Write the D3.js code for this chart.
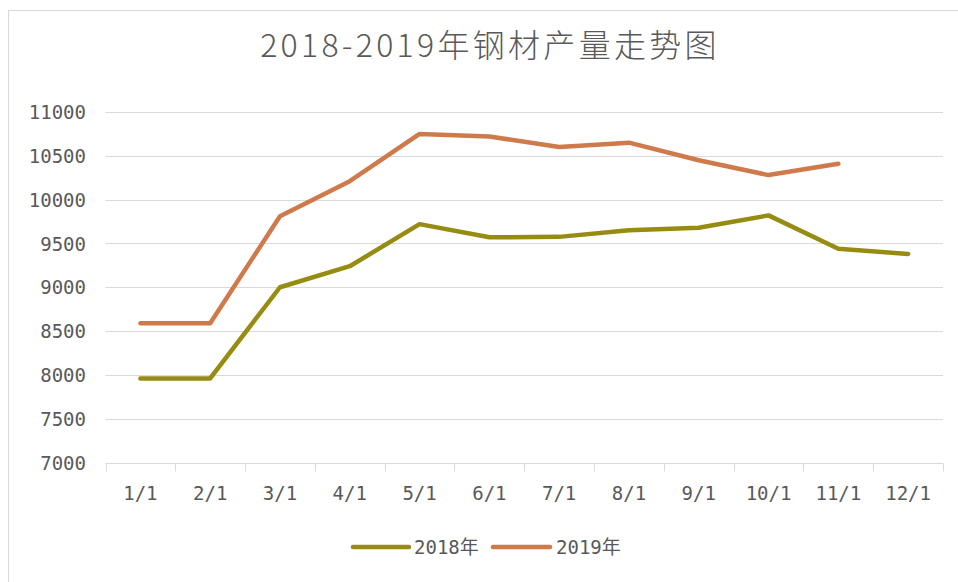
<!DOCTYPE html>
<html>
<head>
<meta charset="utf-8">
<script src="https://cdn.jsdelivr.net/npm/d3@7/dist/d3.min.js"></script>
<style>
  html, body { margin: 0; padding: 0; background: #fff; }
  svg { display: block; }
</style>
</head>
<body>
<svg id="chart" width="958" height="582"></svg>
<script>
const title = "2018-2019年钢材产量走势图";
const categories = ["1/1","2/1","3/1","4/1","5/1","6/1","7/1","8/1","9/1","10/1","11/1","12/1"];
const seriesNames = ["2018年", "2019年"];
const values2018 = [7960, 7960, 9000, 9240, 9720, 9570, 9575, 9650, 9680, 9820, 9440, 9380];
const values2019 = [8590, 8590, 9810, 10210, 10750, 10720, 10600, 10650, 10450, 10280, 10410];
const yTicks = [7000, 7500, 8000, 8500, 9000, 9500, 10000, 10500, 11000];
const colors = ["#978C12", "#CF7A4B"];

const svg = d3.select("#chart");
const numFont = "'DejaVu Sans Mono', 'Noto Sans CJK SC', monospace";
const textColor = "#595959";
const gridColor = "#D9D9D9";

// chart frame
svg.append("rect")
  .attr("x", 8.5).attr("y", 10.5)
  .attr("width", 1000).attr("height", 1000)
  .attr("fill", "#fff").attr("stroke", "#D9D9D9").attr("stroke-width", 1);

const plot = { left: 105.5, right: 943, top: 112, bottom: 462.5 };

const x = d3.scaleBand().domain(categories).range([plot.left, plot.right]).paddingInner(0).paddingOuter(0);
const y = d3.scaleLinear().domain([7000, 11000]).range([plot.bottom, plot.top]);

// gridlines
svg.append("g")
  .selectAll("line")
  .data(yTicks.filter(d => d !== 7000))
  .join("line")
  .attr("x1", plot.left).attr("x2", plot.right)
  .attr("y1", d => Math.round(y(d)) + 0.5).attr("y2", d => Math.round(y(d)) + 0.5)
  .attr("stroke", gridColor).attr("stroke-width", 1);

// y axis labels
const yAxis = d3.axisLeft(y).tickValues(yTicks).tickSize(0).tickPadding(0).tickFormat(d => d);
const yg = svg.append("g").attr("transform", `translate(86,0)`).call(yAxis);
yg.select(".domain").remove();
yg.selectAll("text")
  .attr("font-family", numFont).attr("font-size", 19)
  .attr("fill", textColor).attr("x", 0).attr("dy", "0.35em");

// x axis
const xAxis = d3.axisBottom(x).tickSize(0).tickPadding(0);
const xg = svg.append("g").attr("transform", `translate(0,${Math.round(plot.bottom) + 0.5})`).call(xAxis);
xg.select(".domain").attr("stroke", gridColor).attr("d", `M${plot.left},0H${plot.right}`);
xg.selectAll("text")
  .attr("font-family", numFont).attr("font-size", 19)
  .attr("fill", textColor).attr("y", 30).attr("dy", "0.35em");
// tick marks at band boundaries
const boundaries = categories.map(c => x(c)).concat([plot.right]);
xg.append("g").selectAll("line")
  .data(boundaries)
  .join("line")
  .attr("x1", d => Math.round(d) + 0.5).attr("x2", d => Math.round(d) + 0.5)
  .attr("y1", 0).attr("y2", 8)
  .attr("stroke", gridColor).attr("stroke-width", 1);

// lines
const line = d3.line()
  .x((d, i) => x(categories[i]) + x.bandwidth() / 2)
  .y(d => y(d));

[values2018, values2019].forEach((vals, k) => {
  svg.append("path")
    .datum(vals)
    .attr("d", line)
    .attr("fill", "none")
    .attr("stroke", colors[k])
    .attr("stroke-width", 4.5)
    .attr("stroke-linejoin", "round")
    .attr("stroke-linecap", "round");
});

// title
svg.append("text")
  .attr("x", 490).attr("y", 57)
  .attr("text-anchor", "middle")
  .attr("font-family", "'Noto Sans CJK SC', sans-serif")
  .attr("font-size", 32)
  .attr("font-weight", 300)
  .attr("letter-spacing", 3.3)
  .attr("fill", textColor)
  .text(title);

// legend
const legendItems = [
  { name: seriesNames[0], color: colors[0], x1: 353, x2: 409, tx: 414 },
  { name: seriesNames[1], color: colors[1], x1: 493, x2: 550, tx: 556 }
];
const lg = svg.append("g");
legendItems.forEach(it => {
  lg.append("line")
    .attr("x1", it.x1).attr("x2", it.x2)
    .attr("y1", 547).attr("y2", 547)
    .attr("stroke", it.color).attr("stroke-width", 4.5)
    .attr("stroke-linecap", "round");
  lg.append("text")
    .attr("x", it.tx).attr("y", 547).attr("dy", "0.35em")
    .attr("font-family", numFont).attr("font-size", 19)
    .attr("fill", textColor)
    .text(it.name);
});
</script>
</body>
</html>
